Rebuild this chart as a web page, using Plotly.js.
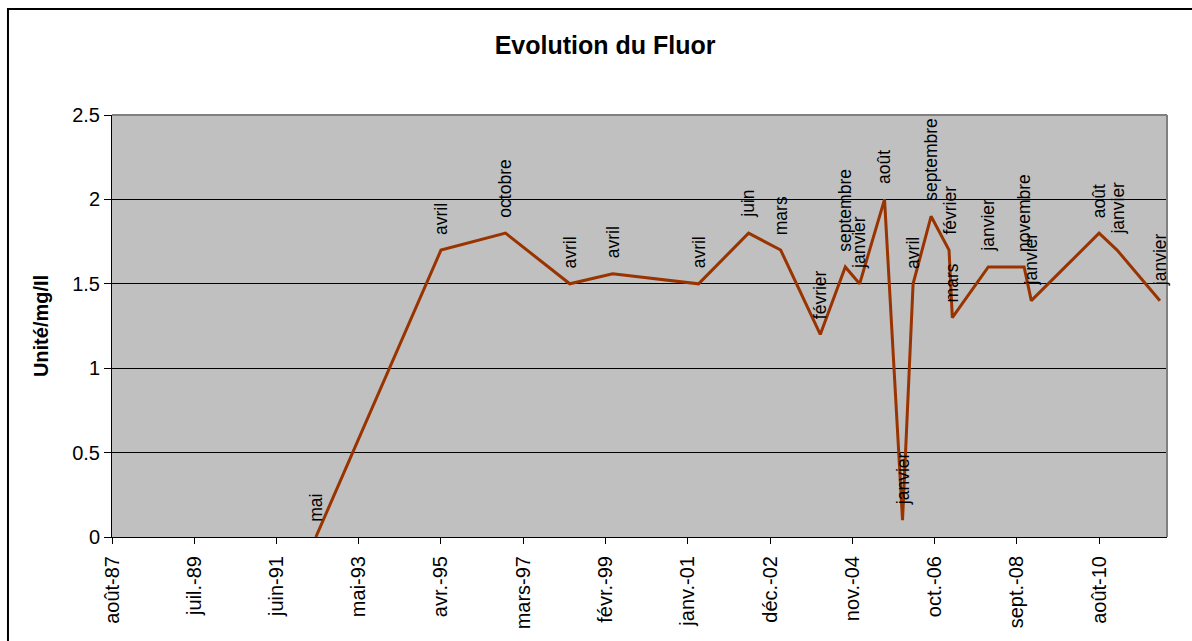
<!DOCTYPE html>
<html>
<head>
<meta charset="utf-8">
<script src="https://cdn.plot.ly/plotly-3.0.1.min.js"></script>
<style>
  html, body { margin: 0; padding: 0; background: #ffffff; }
  #chart { width: 1192px; height: 641px; }
</style>
</head>
<body>
<div id="chart"></div>
<script>
// Sampling dates (first of month), values and data labels
const dates = ['1992-05-01','1995-04-01','1996-10-01','1998-04-01','1999-04-01','2001-04-01',
  '2002-06-01','2003-03-01','2004-02-01','2004-09-01','2005-01-01','2005-08-01',
  '2006-01-01','2006-04-01','2006-09-01','2007-02-01','2007-03-01','2008-01-01',
  '2008-11-01','2009-01-01','2010-08-01','2011-01-01','2012-01-01'];
const fluor = [0, 1.7, 1.8, 1.5, 1.56, 1.5,
  1.8, 1.7, 1.2, 1.6, 1.5, 2.0,
  0.1, 1.5, 1.9, 1.7, 1.3, 1.6,
  1.6, 1.4, 1.8, 1.7, 1.4];
const monthLabels = ['mai','avril','octobre','avril','avril','avril',
  'juin','mars','février','septembre','janvier','août',
  'janvier','avril','septembre','février','mars','janvier',
  'novembre','janvier','août','janvier','janvier'];

// Axis ticks
const xTickVals = ['1987-08-01','1989-07-01','1991-06-01','1993-05-01','1995-04-01','1997-03-01',
  '1999-02-01','2001-01-01','2002-12-01','2004-11-01','2006-10-01','2008-09-01','2010-08-01'];
const xTickText = ['août-87','juil.-89','juin-91','mai-93','avr.-95','mars-97',
  'févr.-99','janv.-01','déc.-02','nov.-04','oct.-06','sept.-08','août-10'];
const yTickVals = [0, 0.5, 1, 1.5, 2, 2.5];
const yTickText = ['0', '0.5', '1', '1.5', '2', '2.5'];

const FONT = 'Liberation Sans, Arial, sans-serif';

const trace = {
  x: dates,
  y: fluor,
  type: 'scatter',
  mode: 'lines',
  line: { color: '#993300', width: 3 },
  hoverinfo: 'skip',
  cliponaxis: false
};

const annotations = dates.map((d, i) => ({
  x: d, y: fluor[i], xref: 'x', yref: 'y',
  text: monthLabels[i],
  showarrow: false,
  textangle: -90,
  xanchor: 'center', yanchor: 'bottom',
  yshift: 13,
  font: { family: FONT, size: 17.5, color: '#000000' }
}));

const layout = {
  width: 1192, height: 641,
  margin: { l: 112, r: 25, t: 115, b: 104, pad: 0 },
  paper_bgcolor: '#ffffff',
  plot_bgcolor: '#C0C0C0',
  showlegend: false,
  hovermode: false,
  title: {
    text: '<b>Evolution du Fluor</b>',
    font: { family: FONT, size: 25, color: '#000000' },
    xref: 'container', x: 0.5076, xanchor: 'center',
    yref: 'container', y: 0.93, yanchor: 'middle'
  },
  xaxis: {
    type: 'date',
    range: ['1987-08-01', '2012-03-01'],
    tickmode: 'array',
    tickvals: xTickVals,
    ticktext: xTickText,
    tickangle: -90,
    ticks: 'outside', ticklen: 6, tickwidth: 1, tickcolor: '#000000',
    ticklabelstandoff: 4,
    showline: true, linecolor: '#000000', linewidth: 1,
    showgrid: false, zeroline: false,
    tickfont: { family: FONT, size: 20, color: '#000000' }
  },
  yaxis: {
    range: [0, 2.5],
    tickmode: 'array',
    tickvals: yTickVals,
    ticktext: yTickText,
    ticks: 'outside', ticklen: 7, tickwidth: 1, tickcolor: '#000000',
    showline: true, linecolor: '#000000', linewidth: 1,
    showgrid: true, gridcolor: '#000000', gridwidth: 1,
    zeroline: false,
    tickfont: { family: FONT, size: 20, color: '#000000' },
    title: {
      text: '<b>Unité/mg/Il</b>',
      font: { family: FONT, size: 20, color: '#000000' },
      standoff: 18
    }
  },
  shapes: [
    // plot area border (top and right), grey
    { type: 'line', xref: 'paper', yref: 'paper', x0: 0, x1: 1, y0: 1, y1: 1,
      line: { color: '#808080', width: 2 }, layer: 'above' },
    { type: 'line', xref: 'paper', yref: 'paper', x0: 1, x1: 1, y0: 0, y1: 1,
      line: { color: '#808080', width: 2 }, layer: 'above' },
    // outer chart frame
    { type: 'rect', xref: 'paper', yref: 'paper', x0: -0.0986, x1: 1.2, y0: -0.5, y1: 1.2512,
      line: { color: '#000000', width: 2 }, layer: 'above' }
  ],
  annotations: annotations
};

Plotly.newPlot('chart', [trace], layout, { displayModeBar: false, staticPlot: true });
</script>
</body>
</html>
